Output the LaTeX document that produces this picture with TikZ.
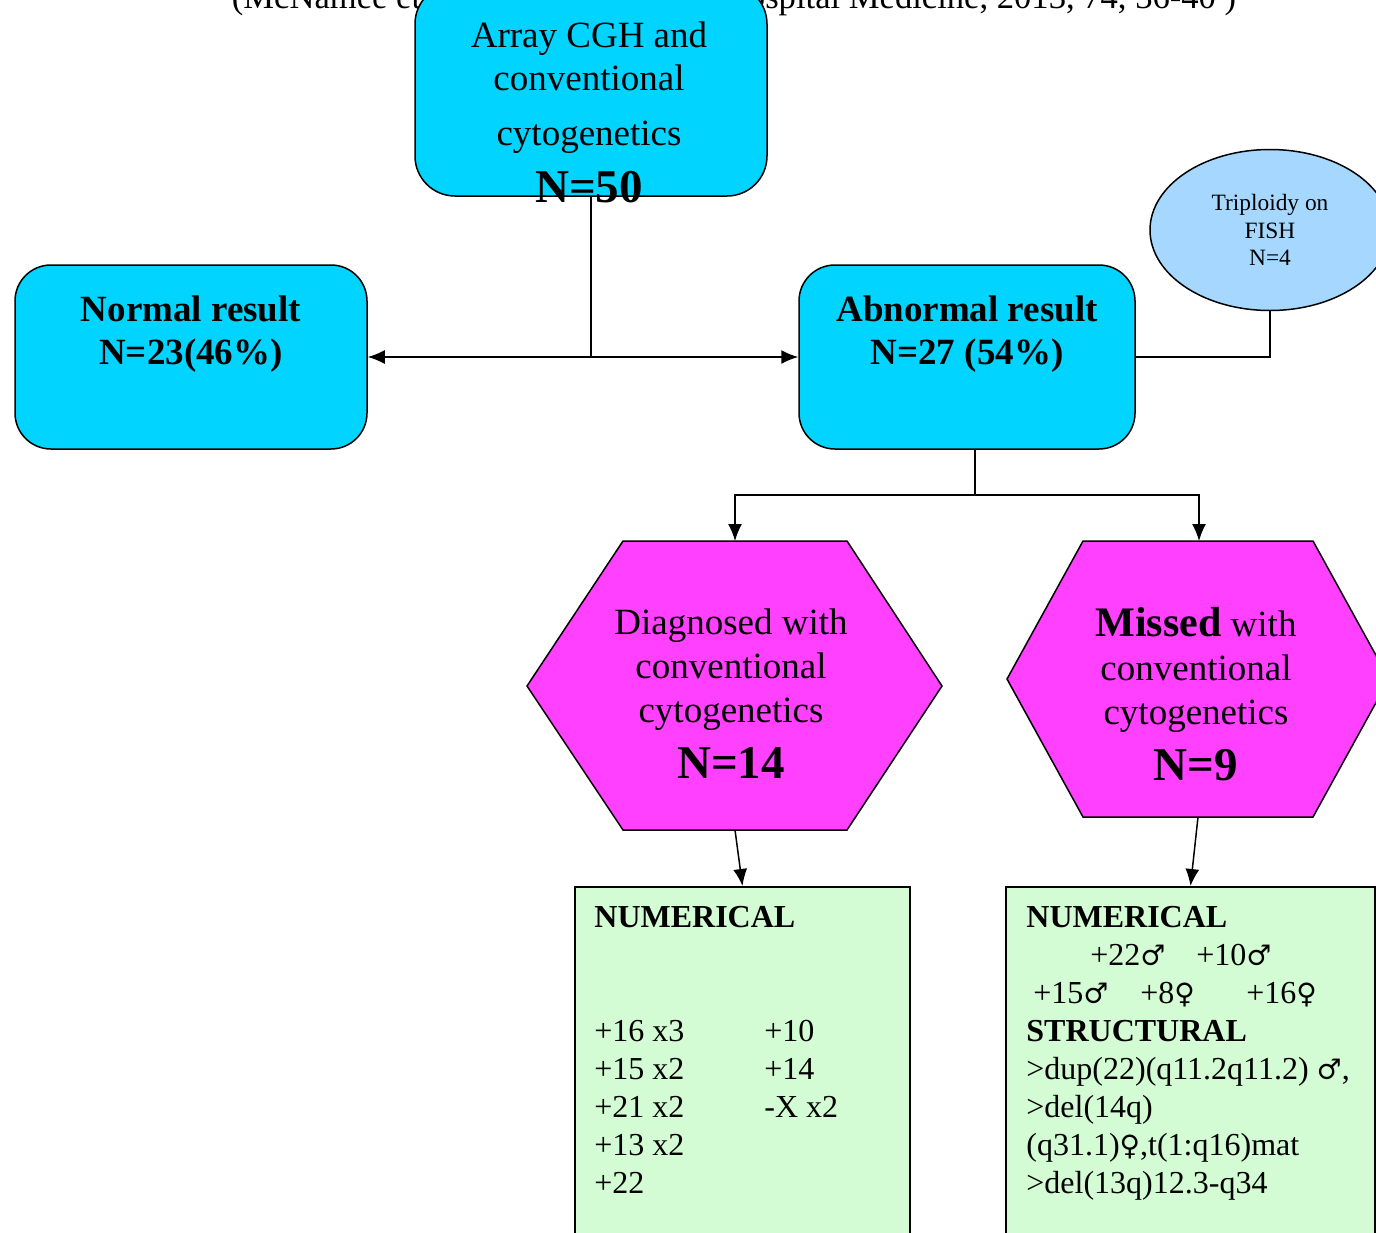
\documentclass[tikz,border=0pt]{standalone}
\usepackage{fontspec}
\setmainfont{Liberation Serif}
\newfontfamily\gsym{DejaVu Serif}
\usetikzlibrary{arrows.meta,shapes.geometric}
\definecolor{cgcyan}{RGB}{0,212,255}
\definecolor{cgpink}{RGB}{255,64,255}
\definecolor{cggreen}{RGB}{212,252,212}
\definecolor{cgblue}{RGB}{166,216,255}
\newcommand{\symM}{{\gsym\fontsize{14}{14}\selectfont ♂}}
\newcommand{\symF}{{\gsym\fontsize{14}{14}\selectfont ♀}}
\tikzset{
  result/.style={draw,line width=0.75pt,fill=cgcyan,rounded corners=18pt,minimum width=176pt,minimum height=92pt,inner sep=0pt,align=center,font=\fontsize{18.5}{21.5}\selectfont\bfseries},
  hexa/.style={draw,line width=0.75pt,fill=cgpink},
  hextext/.style={anchor=north,align=center,inner sep=0pt,font=\fontsize{18.5}{22}\selectfont},
  finding/.style={draw,line width=0.75pt,fill=cggreen,anchor=north,minimum height=182pt,inner sep=0pt},
  findtext/.style={anchor=north west,inner sep=0pt,font=\fontsize{16}{19}\selectfont},
  link/.style={-{Latex[length=8.5pt,width=7pt]},line width=0.75pt},
  plain/.style={line width=0.75pt}
}
\begin{document}
\begin{tikzpicture}[x=0.5pt,y=-0.5pt]
  \useasboundingbox (0,0) rectangle (1376,1232);
  % source line, half hidden behind the first box
  \node[anchor=base,inner sep=0pt,font=\fontsize{17.3}{20}\selectfont] (ref) at (734,8) {(McNamee et al, British Journal of Hospital Medicine, 2013, 74, 36-40 )};

  % first level
  \node[result,minimum height=106pt,rounded corners=20pt] (array) at (591,90) {};
  \node[anchor=north,align=center,inner sep=0pt,font=\fontsize{18.5}{21.5}\selectfont] (arraytxt) at (589,21)
    {Array CGH and\\conventional\\[6pt]cytogenetics\\[7pt]{\fontsize{23.5}{28}\selectfont\bfseries N=50}};
  \node[result] (normal) at (191,357) {Normal result\\N=23(46\%)\\[5pt] \mbox{}};
  \node[result,minimum width=168pt] (abn) at (967,357) {Abnormal result\\N=27 (54\%)\\[5pt] \mbox{}};
  \node[draw,line width=0.75pt,fill=cgblue,ellipse,minimum width=120pt,minimum height=80.5pt,inner sep=0pt,align=center,font=\fontsize{11.7}{13.8}\selectfont] (trip) at (1270,230) {Triploidy on\\FISH\\N=4};

  % hexagons
  \draw[hexa] (527,686) -- (623,541) -- (847,541) -- (942,686) -- (847,830) -- (623,830) -- cycle;
  \coordinate (diagtop) at (735,541);
  \coordinate (diagbot) at (735,830);
  \node[hextext] (diag) at (731,608) {Diagnosed with\\conventional\\cytogenetics\\[6pt]{\fontsize{23.5}{28}\selectfont\bfseries N=14}};
  \draw[hexa] (1007,679) -- (1083,541) -- (1313,541) -- (1389,679) -- (1313,817) -- (1083,817) -- cycle;
  \coordinate (misstop) at (1199,541);
  \coordinate (missbot) at (1198,817);
  \node[hextext] (missed) at (1196,607) {{\fontsize{21}{21}\selectfont\bfseries Missed} with\\conventional\\cytogenetics\\[6pt]{\fontsize{23.5}{28}\selectfont\bfseries N=9}};

  % findings
  \node[finding,minimum width=167.5pt] (numl) at (742.5,886) {};
  \node[findtext] (numltxt) at (594,900) {\begin{tabular}{@{}p{85pt}@{}l@{}}
    \multicolumn{2}{@{}l@{}}{\textbf{NUMERICAL}}\\
    & \\
    & \\
    +16 x3 & +10\\
    +15 x2 & +14\\
    +21 x2 & -X x2\\
    +13 x2 & \\
    +22 & \\
  \end{tabular}};
  \node[finding,minimum width=184.5pt] (numr) at (1190.5,886) {};
  \node[findtext] (numrtxt) at (1026,900) {\begin{tabular}{@{}l@{}}
    \textbf{NUMERICAL}\\
    \hspace{32pt}\makebox[53pt][l]{+22\symM}+10\symM\\
    \hspace{3.5pt}\makebox[53.5pt][l]{+15\symM}\makebox[53pt][l]{+8\symF}+16\symF\\
    \textbf{STRUCTURAL}\\
    >dup(22)(q11.2q11.2) \symM,\\
    >del(14q)\\
    (q31.1)\symF,t(1:q16)mat\\
    >del(13q)12.3-q34\\
  \end{tabular}};

  % connectors
  \coordinate (fork) at (array.south |- normal.east);
  \draw[plain] (array.south) -- (fork);
  \draw[link] (fork) -- (normal.east);
  \draw[link] (fork) -- (abn.west);
  \draw[plain] (abn.east) -| (trip.south);
  \coordinate (split) at (975,495);
  \draw[plain] (split |- abn.south) -- (split);
  \draw[link] (split) -| (diagtop);
  \draw[link] (split) -| (misstop);
  \draw[link] (diagbot) -- (numl.north);
  \draw[link] (missbot) -- (numr.north);
\end{tikzpicture}
\end{document}
